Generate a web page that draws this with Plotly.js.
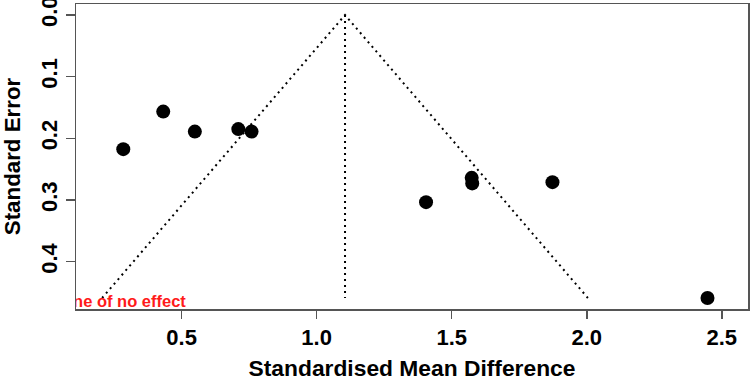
<!DOCTYPE html>
<html>
<head>
<meta charset="utf-8">
<script src="https://cdn.plot.ly/plotly-3.0.1.min.js"></script>
<style>
  html, body { margin: 0; padding: 0; background: #fff; }
  #chart { width: 750px; height: 381px; }
</style>
</head>
<body>
<div id="chart"></div>
<script>
// Study effect sizes (standardised mean difference) and their standard errors
var smd = [0.284, 0.432, 0.549, 0.710, 0.759, 1.405, 1.574, 1.576, 1.873, 2.447];
var se  = [0.2175, 0.1566, 0.189, 0.185, 0.189, 0.3034, 0.264, 0.273, 0.271, 0.4588];
var pooledSmd = 1.105;
var xTickVals = [0.5, 1.0, 1.5, 2.0, 2.5];
var xTickText = ["0.5", "1.0", "1.5", "2.0", "2.5"];
var yTickVals = [0.0, 0.1, 0.2, 0.3, 0.4];
var yTickText = ["0.0", "0.1", "0.2", "0.3", "0.4"];
var labelText = "Line of no effect";

// Funnel limits: pooled estimate +/- 1.96 * SE, out to the largest SE
var seMax = Math.max.apply(null, se);
var z = 1.96;
var funnelX = [pooledSmd - z * seMax, pooledSmd, pooledSmd + z * seMax];
var funnelY = [seMax, 0, seMax];

var family = "Liberation Sans, Arial, Helvetica, sans-serif";
var axisGrey = "#555555";

var traces = [
  {
    x: funnelX, y: funnelY, mode: "lines", type: "scatter",
    line: { color: "#000", width: 2, dash: "2px,4px" }, hoverinfo: "skip"
  },
  {
    x: [pooledSmd, pooledSmd], y: [0, seMax], mode: "lines", type: "scatter",
    line: { color: "#000", width: 2, dash: "2px,4px" }, hoverinfo: "skip"
  },
  {
    x: smd, y: se, mode: "markers", type: "scatter",
    marker: { color: "#000", size: 14 }
  },
  {
    // red caption at the foot of the plot, clipped by the plotting region
    x: [0.044], y: [0.466], mode: "text", type: "scatter",
    text: [labelText], textposition: "middle right", cliponaxis: true,
    textfont: { family: family, weight: "bold", size: 16.5, color: "#ff1a1a" },
    hoverinfo: "skip"
  }
];

var layout = {
  width: 750, height: 381,
  margin: { l: 76, r: 2, t: 4, b: 72 },
  paper_bgcolor: "#fff", plot_bgcolor: "#fff",
  showlegend: false,
  font: { family: family, weight: "bold", color: "#000" },
  xaxis: {
    range: [0.109, 2.597],
    tickvals: xTickVals, ticktext: xTickText,
    showgrid: false, zeroline: false,
    showline: true, mirror: true, linecolor: axisGrey, linewidth: 1.5,
    ticks: "outside", ticklen: 8, tickwidth: 1.5, tickcolor: axisGrey,
    tickfont: { family: family, weight: "bold", size: 22, color: "#000" },
    title: { text: "Standardised Mean Difference", standoff: 20,
             font: { family: family, weight: "bold", size: 22.8, color: "#000" } },
    automargin: false
  },
  yaxis: {
    range: [0.4766, -0.0178],
    tickvals: yTickVals, ticktext: yTickText, tickangle: -90,
    ticklabeloverflow: "allow",
    showgrid: false, zeroline: false,
    showline: true, mirror: true, linecolor: axisGrey, linewidth: 1.5,
    ticks: "outside", ticklen: 9, tickwidth: 1.5, tickcolor: axisGrey,
    tickfont: { family: family, weight: "bold", size: 22, color: "#000" },
    title: { text: "Standard Error", standoff: 20,
             font: { family: family, weight: "bold", size: 22.3, color: "#000" } },
    automargin: false
  }
};

Plotly.newPlot("chart", traces, layout, { staticPlot: true, displayModeBar: false });
</script>
</body>
</html>
